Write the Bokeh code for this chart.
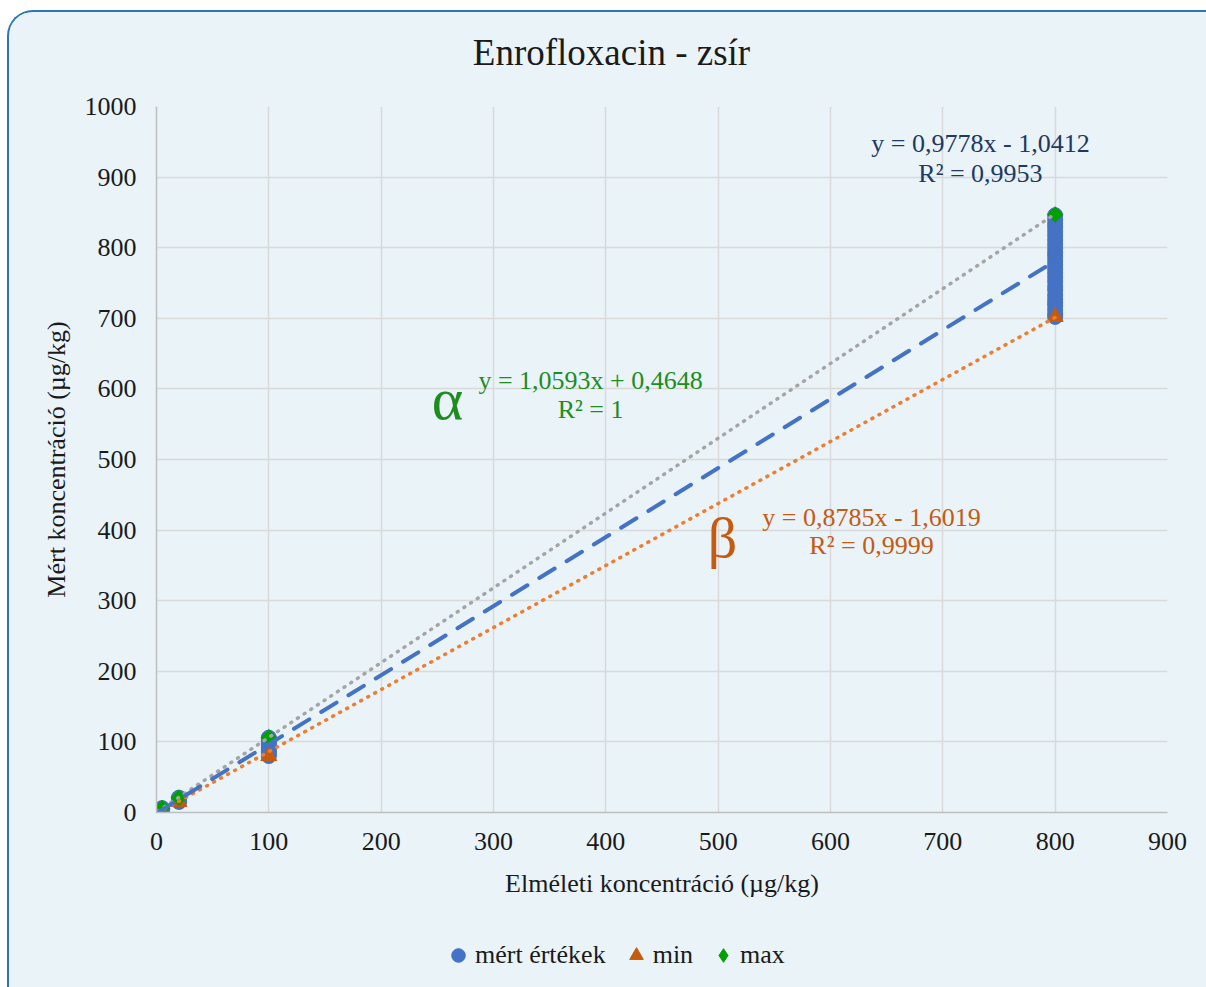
import math
from bokeh.plotting import figure
from bokeh.layouts import column
from bokeh.models import Range1d, Legend, LegendItem, FixedTicker, Label
from bokeh.embed import file_html
from bokeh.resources import INLINE

# ---------------- data ----------------
levels = [1, 5, 20, 100, 800]

meas_1 = [0.3, 0.6, 0.9, 1.2, 1.4]
meas_5 = [3.2, 3.8, 4.4, 5.0, 5.6, 6.2]
meas_20 = [15, 16, 17, 18, 19, 20, 21]
meas_100 = [80, 83, 86, 89, 92, 95, 98, 101, 104, 106]
meas_800 = [702, 706, 712, 718, 722, 727, 733, 740, 745, 752, 758, 764, 770,
            776, 782, 788, 793, 799, 805, 811, 817, 823, 829, 834, 840, 846]

min_vals = [0.3, 3.2, 15, 80, 702]
max_vals = [1.4, 6.2, 21, 106.5, 847]

trend_meas = (0.9778, -1.0412)
trend_min = (0.8785, -1.6019)
trend_max = (1.0593, 0.4648)

x_ticks = [0, 100, 200, 300, 400, 500, 600, 700, 800, 900]
y_ticks = [0, 100, 200, 300, 400, 500, 600, 700, 800, 900, 1000]

series_names = ["mért értékek", "min", "max"]
chart_title = "Enrofloxacin - zsír"

meas_x, meas_y = [], []
for lv, vals in zip(levels, [meas_1, meas_5, meas_20, meas_100, meas_800]):
    meas_x += [lv] * len(vals)
    meas_y += vals

FONT = "Liberation Serif"
BG = "#E9F3F8"
FS = "26px"
BLUE = "#4472C4"
DORANGE = "#C55A11"
GREENM = "#00A000"
W = 1197


def strip(h):
    f = figure(width=W, height=h, x_range=Range1d(0, 1), y_range=Range1d(0, 1),
               output_backend="svg", toolbar_location=None,
               x_axis_type=None, y_axis_type=None,
               min_border_left=0, min_border_right=0, min_border_top=0, min_border_bottom=0,
               background_fill_color=BG, border_fill_color=BG)
    f.outline_line_color = None
    f.xgrid.visible = False
    f.ygrid.visible = False
    return f


# ---- title strip ----
ptop = strip(60)
ptop.add_layout(Label(x=455, y=20, x_units="screen", y_units="screen", text=chart_title,
                      text_align="center", text_baseline="middle", text_font=FONT,
                      text_font_size="37px", text_color="#1a1a1a"))

# ---- main chart ----
p = figure(width=W, height=860, x_range=Range1d(0, 900), y_range=Range1d(0, 1000),
           output_backend="svg", toolbar_location=None,
           min_border_left=147, min_border_right=39, min_border_top=34, min_border_bottom=120,
           background_fill_color=BG, border_fill_color=BG)
p.outline_line_color = None

for ax in (p.xaxis, p.yaxis):
    ax.axis_line_color = "#BFBFBF"
    ax.axis_line_width = 1.5
    ax.major_tick_line_color = None
    ax.minor_tick_line_color = None
    ax.major_tick_out = 0
    ax.major_label_text_font = FONT
    ax.major_label_text_font_size = FS
    ax.major_label_text_color = "#1a1a1a"
    ax.axis_label_text_font = FONT
    ax.axis_label_text_font_size = FS
    ax.axis_label_text_font_style = "normal"
    ax.axis_label_text_color = "#1a1a1a"
p.xaxis.ticker = FixedTicker(ticks=x_ticks)
p.yaxis.ticker = FixedTicker(ticks=y_ticks)
p.xaxis.major_label_standoff = 20
p.yaxis.major_label_standoff = 20
p.xaxis.axis_label = "Elméleti koncentráció (µg/kg)"
p.yaxis.axis_label = "Mért koncentráció (µg/kg)"
p.xaxis.axis_label_standoff = 16
p.yaxis.axis_label_standoff = 11

for g in (p.xgrid, p.ygrid):
    g.grid_line_color = "#D9D9D9"
    g.grid_line_width = 1.5

p.scatter(meas_x, meas_y, marker="circle", size=15, color=BLUE)
p.scatter(levels, min_vals, marker="triangle", size=16, color=DORANGE)
p.scatter(levels, max_vals, marker="square", angle=math.pi / 4, size=11, color=GREENM)

x0, x1 = levels[0], levels[-1]
p.line([x0, x1], [trend_max[0] * x0 + trend_max[1], trend_max[0] * x1 + trend_max[1]],
       line_color="#A5A5A5", line_width=3.5, line_dash="1 7", line_cap="round")
p.line([x0, x1], [trend_min[0] * x0 + trend_min[1], trend_min[0] * x1 + trend_min[1]],
       line_color="#ED7D31", line_width=3.5, line_dash="1 7", line_cap="round")
p.line([x0, x1], [trend_meas[0] * x0 + trend_meas[1], trend_meas[0] * x1 + trend_meas[1]],
       line_color=BLUE, line_width=4, line_dash="18 14", line_cap="round")


def lab(x, y, text, color, size=FS):
    p.add_layout(Label(x=x, y=y, text=text, text_align="center", text_baseline="middle",
                       text_font=FONT, text_font_size=size, text_color=color))


NAVY = "#203864"
GREEN = "#1E8C1E"
ORANGE = "#C55A11"
lab(733.5, 947.6, "y = 0,9778x - 1,0412", NAVY)
lab(733.5, 905.0, "R² = 0,9953", NAVY)
lab(386.4, 611.9, "y = 1,0593x + 0,4648", GREEN)
lab(386.4, 570.8, "R² = 1", GREEN)
lab(259.0, 586.0, "α", GREEN, "60px")
lab(636.5, 417.8, "y = 0,8785x - 1,6019", ORANGE)
lab(636.5, 378.2, "R² = 0,9999", ORANGE)
lab(503.9, 389.5, "β", ORANGE, "58px")

# ---- legend strip ----
p2 = strip(55)
lg_meas = p2.scatter([-5], [-5], marker="circle", color=BLUE)
lg_min = p2.scatter([-5], [-5], marker="triangle", color=DORANGE)
lg_max = p2.scatter([-5], [-5], marker="diamond", color=GREENM)

legend = Legend(items=[LegendItem(label=series_names[0], renderers=[lg_meas]),
                       LegendItem(label=series_names[1], renderers=[lg_min]),
                       LegendItem(label=series_names[2], renderers=[lg_max])],
                orientation="horizontal", location=(285, 15),
                background_fill_alpha=0, border_line_color=None,
                label_text_font=FONT, label_text_font_size=FS, label_text_color="#1a1a1a",
                glyph_width=34, glyph_height=34, label_standoff=-4, spacing=13,
                padding=0, margin=0)
p2.add_layout(legend)

layout = column(ptop, p, p2, spacing=0)
layout.styles = {"margin-left": "7px", "margin-top": "10px",
                 "border-top": "2px solid #2E75B6", "border-left": "2px solid #2E75B6",
                 "border-top-left-radius": "26px", "overflow": "hidden",
                 "background-color": BG}

open("out.html", "w").write(file_html(layout, INLINE))
